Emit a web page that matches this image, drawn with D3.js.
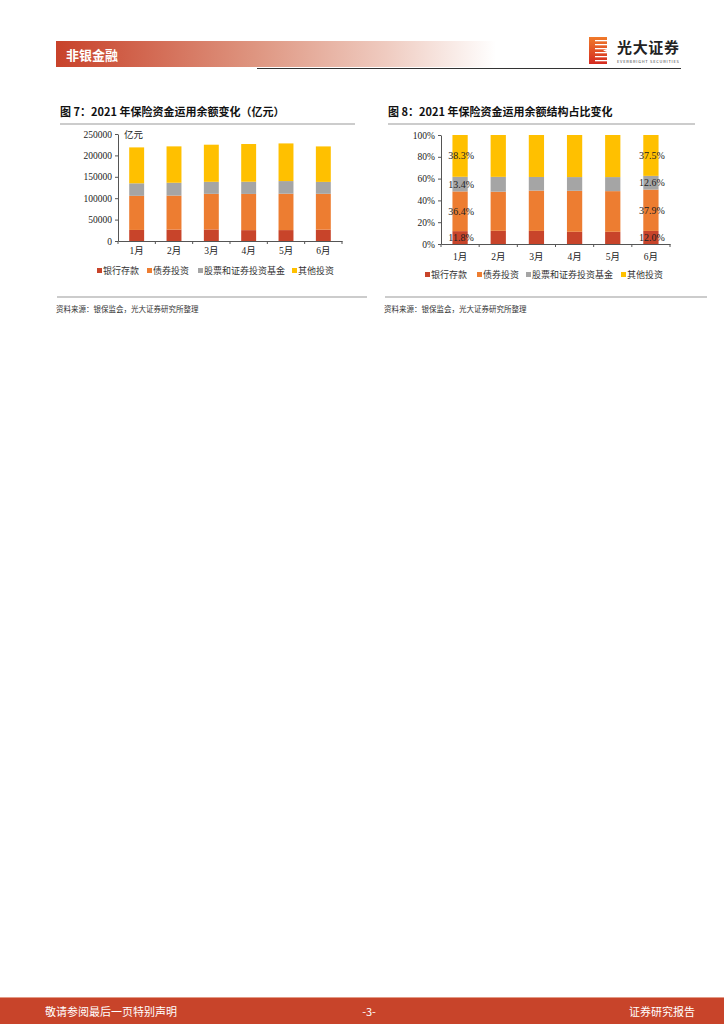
<!DOCTYPE html>
<html>
<head>
<meta charset="utf-8">
<script src="https://cdn.jsdelivr.net/npm/d3@7"></script>
<style>
  body { margin: 0; background: #fff; }
  svg { display: block; font-family: "Noto Sans CJK SC", sans-serif; }
  .tick text { font-family: "Liberation Serif", "Noto Sans CJK SC", serif; fill: #222; }
</style>
</head>
<body>
<svg id="page" width="724" height="1024"></svg>
<script>
'use strict';

// ---- data ----
var months = ['1月', '2月', '3月', '4月', '5月', '6月'];
var seriesNames = ['银行存款', '债券投资', '股票和证券投资基金', '其他投资'];
var seriesColors = ['#C8442A', '#ED7D31', '#A5A5A5', '#FFC000'];

// 亿元
var bankDeposit = [25800, 26600, 27000, 25400, 25500, 26500];
var bondInvest  = [79700, 79500, 83200, 84600, 85000, 83800];
var stockFund   = [29300, 30000, 28100, 28500, 29500, 27800];
var otherInvest = [83900, 85000, 86700, 88100, 88000, 82900];
var amountTicks = [0, 50000, 100000, 150000, 200000, 250000];

// %
var bankShare  = [11.8, 12.1, 12.0, 11.2, 11.2, 12.0];
var bondShare  = [36.4, 35.9, 37.0, 37.6, 37.3, 37.9];
var stockShare = [13.4, 13.6, 12.5, 12.6, 12.9, 12.6];
var otherShare = [38.3, 38.4, 38.5, 38.6, 38.6, 37.5];
var shareTicks = [0, 20, 40, 60, 80, 100];
var labelledMonths = ['1月', '6月'];

var svg = d3.select('#page');

// ---- page header ----
var defs = svg.append('defs');
var grad = defs.append('linearGradient').attr('id', 'hdr');
grad.append('stop').attr('offset', '0%').attr('stop-color', '#C8422A');
grad.append('stop').attr('offset', '45%').attr('stop-color', '#DE9580');
grad.append('stop').attr('offset', '75%').attr('stop-color', '#EFCBC0');
grad.append('stop').attr('offset', '100%').attr('stop-color', '#ffffff');

svg.append('rect').attr('x', 56).attr('y', 41).attr('width', 440).attr('height', 26)
  .attr('fill', 'url(#hdr)');
svg.append('text').attr('x', 66).attr('y', 59.5)
  .attr('fill', '#fff').attr('font-size', 13).attr('font-weight', 'bold')
  .text('非银金融');
svg.append('line').attr('x1', 257).attr('x2', 681).attr('y1', 68.5).attr('y2', 68.5)
  .attr('stroke', '#333').attr('stroke-width', 1.2);

// logo
var logoGrad = defs.append('linearGradient').attr('id', 'logo')
  .attr('x1', '0').attr('x2', '0').attr('y1', '0').attr('y2', '1');
logoGrad.append('stop').attr('offset', '0%').attr('stop-color', '#F07A2A');
logoGrad.append('stop').attr('offset', '100%').attr('stop-color', '#D42A20');
var logo = svg.append('g').attr('transform', 'translate(589,37)');
logo.append('rect').attr('width', 18).attr('height', 27).attr('fill', 'url(#logo)');
d3.range(6).forEach(function (i) {
  logo.append('rect').attr('x', 6).attr('y', 3 + i * 4).attr('width', 12).attr('height', 1.3)
    .attr('fill', '#fff');
});
logo.append('path').attr('d', 'M18,0 L18,12 L14,13.5 L18,15 L18,27 Z').attr('fill', '#fff');
svg.append('text').attr('x', 617).attr('y', 53).attr('font-size', 15).attr('font-weight', 'bold')
  .attr('fill', '#222').attr('textLength', 62).text('光大证券');
svg.append('text').attr('x', 617).attr('y', 62.5).attr('font-size', 4).attr('fill', '#444')
  .attr('textLength', 62).text('EVERBRIGHT SECURITIES');

// ---- footer ----
svg.append('rect').attr('x', 0).attr('y', 997).attr('width', 724).attr('height', 27).attr('fill', '#C8442A');
svg.append('line').attr('x1', 0).attr('x2', 724).attr('y1', 997.5).attr('y2', 997.5)
  .attr('stroke', '#E39A86').attr('stroke-width', 1);
svg.append('text').attr('x', 45).attr('y', 1016).attr('font-size', 11).attr('fill', '#fff')
  .text('敬请参阅最后一页特别声明');
svg.append('text').attr('x', 369).attr('y', 1016).attr('font-size', 11).attr('fill', '#fff')
  .attr('text-anchor', 'middle').text('-3-');
svg.append('text').attr('x', 695).attr('y', 1016).attr('font-size', 11).attr('fill', '#fff')
  .attr('text-anchor', 'end').text('证券研究报告');

// ---- shared helpers ----
function panelFrame(title, x0, x1) {
  svg.append('text').attr('x', x0).attr('y', 116).attr('font-size', 11).attr('font-weight', 'bold')
    .attr('fill', '#111').text(title);
  svg.append('line').attr('x1', x0).attr('x2', x1).attr('y1', 124).attr('y2', 124)
    .attr('stroke', '#999').attr('stroke-width', 1);
  svg.append('line').attr('x1', x0 - 3).attr('x2', x1 + 12).attr('y1', 297).attr('y2', 297)
    .attr('stroke', '#999').attr('stroke-width', 1);
  svg.append('text').attr('x', x0 - 4).attr('y', 312).attr('font-size', 7.5).attr('fill', '#333')
    .text('资料来源：银保监会，光大证券研究所整理');
}

function drawLegend(xs, y) {
  seriesNames.forEach(function (name, i) {
    svg.append('rect').attr('x', xs[i]).attr('y', y - 3).attr('width', 5).attr('height', 5)
      .attr('fill', seriesColors[i]);
    svg.append('text').attr('x', xs[i] + 6).attr('y', y + 3).attr('font-size', 9).attr('fill', '#333')
      .text(name);
  });
}

function drawBarPanel(opt) {
  var x = d3.scaleBand().domain(months).range([opt.left, opt.right]).paddingInner(0.6).paddingOuter(0.3);
  var y = d3.scaleLinear().domain(opt.domain).range([opt.bottom, opt.top]);
  var stack = d3.stack().keys(d3.range(4));
  if (opt.expand) stack.offset(d3.stackOffsetExpand);
  var rows = months.map(function (m, i) {
    var r = { month: m };
    opt.series.forEach(function (s, k) { r[k] = s[i]; });
    return r;
  });
  var layers = stack(rows);

  var g = svg.append('g');
  layers.forEach(function (layer, k) {
    g.selectAll(null).data(layer).enter().append('rect')
      .attr('x', function (d) { return x(d.data.month); })
      .attr('width', x.bandwidth())
      .attr('y', function (d) { return y(d[1] * opt.scale); })
      .attr('height', function (d) { return y(d[0] * opt.scale) - y(d[1] * opt.scale); })
      .attr('fill', seriesColors[k]);
  });

  // y axis
  var ya = svg.append('g').attr('transform', 'translate(' + opt.left + ',0)')
    .call(d3.axisLeft(y).tickValues(opt.ticks).tickSize(3).tickSizeOuter(0).tickPadding(3)
      .tickFormat(opt.fmt));
  ya.selectAll('text').attr('font-size', 9.5);
  ya.selectAll('line, path').attr('stroke', '#555');

  // x axis with boundary ticks
  var xa = svg.append('g').attr('transform', 'translate(0,' + opt.bottom + ')')
    .call(d3.axisBottom(x).tickSize(0).tickSizeOuter(0).tickPadding(opt.labelPad));
  xa.selectAll('text').attr('font-size', 9.5);
  xa.select('path').attr('stroke', '#555');
  var step = x.step();
  xa.selectAll('line.bnd').data(d3.range(months.length + 1)).enter().append('line')
    .attr('class', 'bnd')
    .attr('x1', function (i) { return x.range()[0] + i * step; })
    .attr('x2', function (i) { return x.range()[0] + i * step; })
    .attr('y1', 0).attr('y2', 3).attr('stroke', '#555');

  return { x: x, y: y, layers: layers };
}

// ---- chart 7 ----
panelFrame('图 7：2021 年保险资金运用余额变化（亿元）', 60, 355);
drawBarPanel({
  left: 118, right: 342, top: 134, bottom: 241,
  domain: [0, 250000], ticks: amountTicks, scale: 1, expand: false,
  series: [bankDeposit, bondInvest, stockFund, otherInvest],
  fmt: d3.format('d'), labelPad: 6
});
svg.append('text').attr('x', 124).attr('y', 137.5).attr('font-size', 9.5).attr('fill', '#222')
  .text('亿元');
drawLegend([97, 147, 198, 292], 271);

// ---- chart 8 ----
panelFrame('图 8：2021 年保险资金运用余额结构占比变化', 388, 695);
var p8 = drawBarPanel({
  left: 441, right: 670, top: 135, bottom: 244,
  domain: [0, 100], ticks: shareTicks, scale: 100, expand: true,
  series: [bankShare, bondShare, stockShare, otherShare],
  fmt: function (d) { return d + '%'; }, labelPad: 9
});
var shares = [bankShare, bondShare, stockShare, otherShare];
p8.layers.forEach(function (layer, k) {
  svg.selectAll(null)
    .data(layer.filter(function (d) { return labelledMonths.indexOf(d.data.month) >= 0; }))
    .enter().append('text')
    .attr('x', function (d) { return p8.x(d.data.month) + p8.x.bandwidth() / 2 + 1; })
    .attr('y', function (d) { return p8.y((d[0] + d[1]) * 50) + 3.5; })
    .attr('text-anchor', 'middle').attr('font-size', 10).attr('fill', '#222')
    .attr('font-family', '"Liberation Serif", serif')
    .text(function (d) { return shares[k][months.indexOf(d.data.month)].toFixed(1) + '%'; });
});
drawLegend([425, 477, 526, 621], 275);
</script>
</body>
</html>
